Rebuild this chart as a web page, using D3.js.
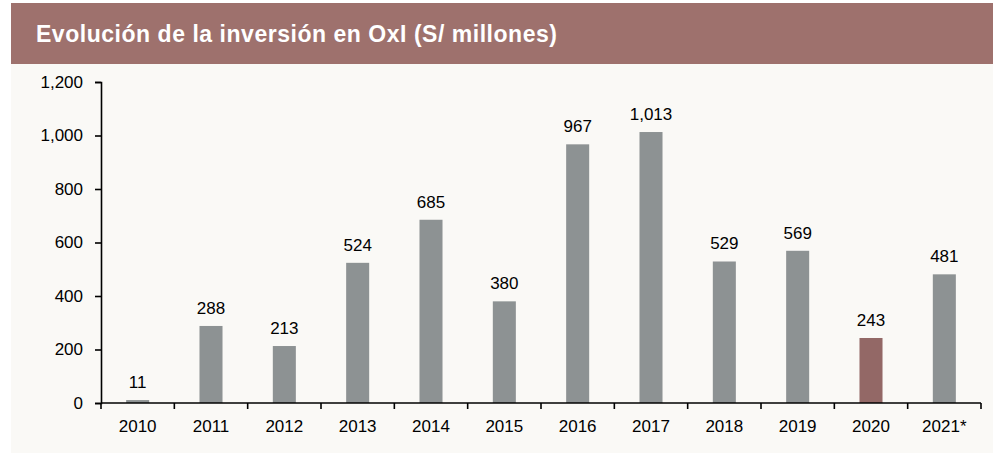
<!DOCTYPE html>
<html>
<head>
<meta charset="utf-8">
<script src="https://cdn.jsdelivr.net/npm/d3@7"></script>
<style>
  html, body { margin: 0; padding: 0; background: #ffffff; }
  svg { display: block; font-family: Arial, 'Liberation Sans', sans-serif; }
</style>
</head>
<body>
<svg id="chart" width="993" height="454"></svg>
<script>
const years = ['2010', '2011', '2012', '2013', '2014', '2015', '2016', '2017', '2018', '2019', '2020', '2021*'];
const investment = [11, 288, 213, 524, 685, 380, 967, 1013, 529, 569, 243, 481];
const highlightYear = '2020';
const yTicks = [0, 200, 400, 600, 800, 1000, 1200];
const title = 'Evolución de la inversión en OxI (S/ millones)';

const svg = d3.select('#chart');
const W = 993, H = 454;

// panel background + title band
svg.append('rect').attr('x', 11).attr('y', 3).attr('width', W - 11).attr('height', H - 4)
    .attr('fill', '#faf9f6');
svg.append('rect').attr('x', 11).attr('y', 3).attr('width', W - 11).attr('height', 61)
    .attr('fill', '#9e716d');
const titleText = svg.append('text')
    .attr('x', 36).attr('y', 42)
    .attr('fill', '#ffffff')
    .style('font-size', '23px')
    .style('font-weight', 'bold')
    .text(title);
// a touch of extra spacing so the title spans the same width as the original
const tw = titleText.node().getComputedTextLength();
titleText.style('letter-spacing', `${Math.max(0, (521 - tw) / (title.length - 1))}px`);

const x = d3.scaleBand()
    .domain(years)
    .range([101, 981])
    .paddingInner(0.686)
    .paddingOuter(0.343);

const y = d3.scaleLinear()
    .domain([0, 1200])
    .range([403, 82]);

const data = years.map((year, i) => ({ year, value: investment[i] }));

svg.selectAll('rect.bar')
    .data(data)
    .enter().append('rect')
    .attr('class', 'bar')
    .attr('x', d => x(d.year))
    .attr('width', x.bandwidth())
    .attr('y', d => y(d.value))
    .attr('height', d => y(0) - y(d.value))
    .attr('fill', d => d.year === highlightYear ? '#936866' : '#8d9293');

svg.selectAll('text.val')
    .data(data)
    .enter().append('text')
    .attr('class', 'val')
    .attr('x', d => x(d.year) + x.bandwidth() / 2)
    .attr('y', d => y(d.value) - 12)
    .attr('text-anchor', 'middle')
    .style('font-size', '17px')
    .attr('fill', '#000')
    .text(d => d3.format(',')(d.value));

// y axis
const yAxis = svg.append('g')
    .attr('transform', 'translate(101,0)')
    .call(d3.axisLeft(y).tickValues(yTicks).tickSize(6).tickPadding(12).tickFormat(d3.format(',')));

// x axis: ticks at band edges
const xAxisG = svg.append('g').attr('transform', `translate(0,${y(0)})`);
const edges = d3.range(years.length + 1).map(i => 101 + i * x.step());
xAxisG.append('line')
    .attr('x1', 101).attr('x2', 981)
    .attr('stroke', '#000').attr('stroke-width', 1.6);
xAxisG.selectAll('line.tick')
    .data(edges)
    .enter().append('line')
    .attr('class', 'tick')
    .attr('x1', d => d).attr('x2', d => d)
    .attr('y1', 0).attr('y2', 6)
    .attr('stroke', '#000').attr('stroke-width', 1.6);
xAxisG.selectAll('text')
    .data(years)
    .enter().append('text')
    .attr('x', d => x(d) + x.bandwidth() / 2)
    .attr('y', 29)
    .attr('text-anchor', 'middle')
    .style('font-size', '17px')
    .attr('fill', '#000')
    .text(d => d);

yAxis.select('.domain').attr('stroke', '#000').attr('stroke-width', 1.6);
yAxis.selectAll('.tick line').attr('stroke', '#000').attr('stroke-width', 1.6);
yAxis.selectAll('.tick text')
    .style('font-size', '17px')
    .style('font-family', "Arial, 'Liberation Sans', sans-serif")
    .attr('fill', '#000');
</script>
</body>
</html>
